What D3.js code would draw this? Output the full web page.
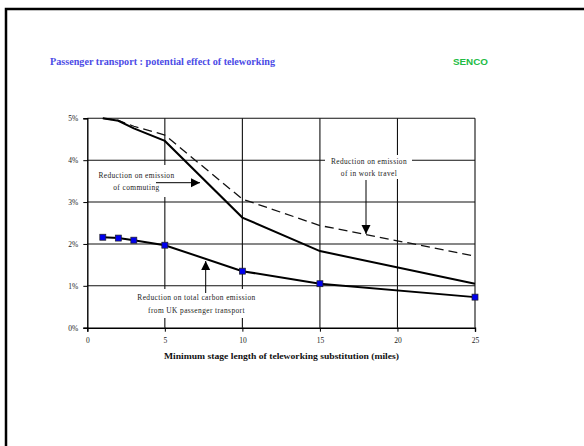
<!DOCTYPE html>
<html><head><meta charset="utf-8">
<script src="https://cdn.jsdelivr.net/npm/d3@7"></script>
<style>body{margin:0;background:#fff}svg{display:block}</style>
</head><body>
<script>
const xValues = [1, 2, 3, 5, 10, 15, 25];
const commuting = [5.0, 4.94, 4.76, 4.46, 2.63, 1.83, 1.05];
const inWorkTravel = [5.0, 4.95, 4.81, 4.6, 3.07, 2.44, 1.71];
const totalTransport = [2.16, 2.14, 2.09, 1.97, 1.35, 1.05, 0.73];
const xTicks = [0, 5, 10, 15, 20, 25];
const yTicks = [0, 1, 2, 3, 4, 5];

const W = 584, H = 446;
const svg = d3.select("body").append("svg").attr("width", W).attr("height", H);
const x = d3.scaleLinear().domain([0, 25]).range([87.3, 475]);
const y = d3.scaleLinear().domain([0, 5]).range([327.7, 118.3]);
const serif = "'Liberation Serif','Times New Roman',serif";

// page frame
svg.append("path").attr("d", `M6,${H} L6,9 L${W},9`).attr("fill", "none")
  .attr("stroke", "#000").attr("stroke-width", 2.5);

// title
svg.append("text").attr("x", 50).attr("y", 64.5).attr("font-family", serif)
  .attr("font-weight", "bold").attr("font-size", 9.5).attr("fill", "#4b4be6")
  .attr("textLength", 225).attr("lengthAdjust", "spacingAndGlyphs")
  .text("Passenger transport : potential effect of teleworking");
svg.append("text").attr("x", 453).attr("y", 64.5).attr("font-family", "'Liberation Sans',Arial,sans-serif")
  .attr("font-weight", "bold").attr("font-size", 9.5).attr("fill", "#22bb44")
  .attr("textLength", 35).attr("lengthAdjust", "spacingAndGlyphs").text("SENCO");

// gridlines
const g = svg.append("g");
g.selectAll(".hg").data(yTicks.filter(d => d > 0)).enter().append("line")
  .attr("x1", x(0)).attr("x2", x(25)).attr("y1", d => y(d)).attr("y2", d => y(d))
  .attr("stroke", "#111").attr("stroke-width", 1.1);
g.selectAll(".vg").data(xTicks.filter(d => d > 0)).enter().append("line")
  .attr("x1", d => x(d)).attr("x2", d => x(d)).attr("y1", y(0)).attr("y2", y(5))
  .attr("stroke", "#111").attr("stroke-width", 1.1);

// axes
const yAxis = d3.axisLeft(y).tickValues(yTicks).tickSize(4).tickFormat(d => d + "%");
const ya = svg.append("g").attr("transform", `translate(${x(0)},0)`).call(yAxis);
ya.select(".domain").attr("stroke", "#000").attr("stroke-width", 1.4);
ya.selectAll("text").attr("font-family", serif).attr("font-size", 7.5).attr("fill", "#222").attr("dx", -2);
const xAxis = d3.axisBottom(x).tickValues(xTicks).tickSize(4).tickFormat(d3.format("d"));
const xa = svg.append("g").attr("transform", `translate(0,${y(0)})`).call(xAxis);
xa.select(".domain").attr("stroke", "#000").attr("stroke-width", 1.4);
xa.selectAll("text").attr("font-family", serif).attr("font-size", 7.5).attr("fill", "#222").attr("dy", "1.15em");

svg.append("text").attr("x", 164).attr("y", 359).attr("font-family", serif)
  .attr("font-weight", "bold").attr("font-size", 7.5).attr("fill", "#111")
  .attr("textLength", 235).attr("lengthAdjust", "spacingAndGlyphs")
  .text("Minimum stage length of teleworking substitution (miles)");

// annotation boxes (white, cut gridlines)
function box(x0, y0, w, h) {
  svg.append("rect").attr("x", x0).attr("y", y0).attr("width", w).attr("height", h).attr("fill", "#fff");
}
box(95, 165, 88, 32);
box(325, 155, 87, 24);
box(131, 289, 130, 29);

// lines
const line = d3.line().x((d, i) => x(xValues[i])).y(d => y(d));
svg.append("path").datum(inWorkTravel).attr("d", line).attr("fill", "none")
  .attr("stroke", "#111").attr("stroke-width", 1.3).attr("stroke-dasharray", "9,5");
svg.append("path").datum(commuting).attr("d", line).attr("fill", "none")
  .attr("stroke", "#000").attr("stroke-width", 2);
svg.append("path").datum(totalTransport).attr("d", line).attr("fill", "none")
  .attr("stroke", "#000").attr("stroke-width", 2);
svg.selectAll(".sq").data(totalTransport).enter().append("rect")
  .attr("x", (d, i) => x(xValues[i]) - 3).attr("y", d => y(d) - 3)
  .attr("width", 6).attr("height", 6).attr("fill", "#0000ee")
  .attr("stroke", "#222").attr("stroke-width", 0.7);

// annotation texts
function label(cx, lines, y0) {
  lines.forEach((t, i) => svg.append("text").attr("x", cx).attr("y", y0 + i * 12.5)
    .attr("text-anchor", "middle").attr("font-family", serif).attr("font-size", 7.4)
    .attr("fill", "#222").attr("letter-spacing", 0.4).text(t));
}
label(136.5, ["Reduction on emission", "of commuting"], 177.5);
label(369, ["Reduction on emission", "of in work travel"], 163.5);
label(196.5, ["Reduction on total carbon emission", "from UK passenger transport"], 300);

// arrows
function arrow(x1, y1, x2, y2) {
  svg.append("line").attr("x1", x1).attr("y1", y1).attr("x2", x2).attr("y2", y2)
    .attr("stroke", "#000").attr("stroke-width", 1);
  const a = Math.atan2(y2 - y1, x2 - x1), L = 9, Wd = 4.5;
  const bx = x2 - L * Math.cos(a), by = y2 - L * Math.sin(a);
  const px = -Math.sin(a) * Wd, py = Math.cos(a) * Wd;
  svg.append("path").attr("d", `M${x2},${y2} L${bx + px},${by + py} L${bx - px},${by - py} Z`).attr("fill", "#000");
}
arrow(156, 182.7, 200, 182.7);
arrow(366, 180, 366, 234);
arrow(205.7, 293, 205.7, 261);
</script>
</body></html>
